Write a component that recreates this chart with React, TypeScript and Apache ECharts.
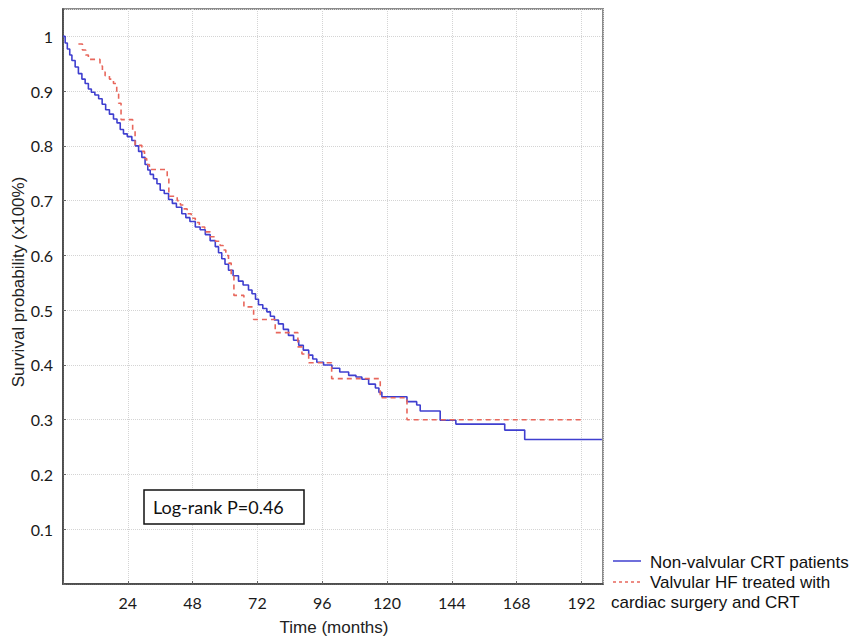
import React, { useEffect, useRef } from "react";
import * as echarts from "echarts";

// Non-valvular CRT patients (Kaplan-Meier, step after each event)
const blueTimes = [0, 0.8, 1.6, 2.5, 3.3, 4.5, 5.7, 7.0, 8.2, 9.4, 10.5, 11.8, 13.2, 14.5, 15.8, 17.2, 18.7, 20.0, 21.2, 22.4, 23.8, 25.5, 26.8, 28.0, 29.2, 30.4, 31.4, 32.3, 33.5, 34.8, 36.0, 37.5, 39.1, 40.5, 42.0, 44.0, 45.5, 47.0, 49.0, 50.8, 52.7, 54.5, 56.4, 57.6, 58.8, 60.0, 61.3, 63.0, 65.0, 66.7, 68.7, 70.0, 71.3, 72.4, 74.0, 75.5, 76.8, 78.3, 79.8, 81.6, 83.5, 85.4, 87.3, 89.0, 91.0, 92.5, 94.0, 96.5, 99.6, 102.5, 105.8, 108.5, 110.7, 113.2, 115.7, 117.0, 118.1, 127.4, 131.0, 132.3, 139.7, 145.5, 163.6, 171.0, 199.6];
const blueSurv = [1.0, 0.988, 0.977, 0.966, 0.956, 0.944, 0.932, 0.922, 0.914, 0.904, 0.898, 0.893, 0.886, 0.876, 0.866, 0.858, 0.849, 0.842, 0.830, 0.822, 0.817, 0.810, 0.800, 0.790, 0.779, 0.766, 0.756, 0.748, 0.740, 0.731, 0.719, 0.713, 0.702, 0.695, 0.688, 0.676, 0.669, 0.662, 0.652, 0.647, 0.638, 0.627, 0.616, 0.605, 0.594, 0.584, 0.573, 0.563, 0.553, 0.546, 0.537, 0.530, 0.520, 0.510, 0.503, 0.497, 0.489, 0.482, 0.475, 0.465, 0.454, 0.445, 0.436, 0.427, 0.418, 0.411, 0.405, 0.400, 0.394, 0.387, 0.381, 0.378, 0.374, 0.365, 0.358, 0.350, 0.342, 0.333, 0.327, 0.316, 0.299, 0.292, 0.281, 0.264, 0.264];

// Valvular HF treated with cardiac surgery and CRT
const redTimes = [5.7, 7.2, 8.4, 9.4, 13.7, 14.6, 15.6, 17.2, 18.7, 19.9, 20.6, 21.5, 25.8, 26.7, 29.2, 30.2, 31.0, 32.0, 38.6, 39.2, 42.3, 43.5, 44.6, 46.0, 47.5, 49.0, 50.5, 52.5, 54.5, 56.5, 58.2, 59.3, 60.3, 61.3, 62.3, 63.3, 67.0, 70.6, 78.6, 87.0, 88.5, 91.0, 99.5, 117.5, 127.4, 192.8];
const redSurv = [0.986, 0.975, 0.966, 0.958, 0.946, 0.935, 0.928, 0.922, 0.914, 0.895, 0.878, 0.848, 0.828, 0.801, 0.790, 0.777, 0.766, 0.757, 0.740, 0.708, 0.700, 0.692, 0.685, 0.676, 0.668, 0.660, 0.652, 0.643, 0.634, 0.626, 0.618, 0.610, 0.600, 0.586, 0.564, 0.527, 0.506, 0.483, 0.459, 0.433, 0.420, 0.404, 0.375, 0.340, 0.300, 0.300];

const xTicks = [24, 48, 72, 96, 120, 144, 168, 192];
const yTicks = [0.1, 0.2, 0.3, 0.4, 0.5, 0.6, 0.7, 0.8, 0.9, 1];
const seriesNames = ["Non-valvular CRT patients", "Valvular HF treated with cardiac surgery and CRT"];
const annotation = "Log-rank P=0.46";

const BLUE = "#3f3fcf";
const RED = "#e8675c";

export default function App() {
  const ref = useRef<HTMLDivElement>(null);
  useEffect(() => {
    if (!ref.current) return;
    const chart = echarts.init(ref.current, null, { renderer: "svg" });
    const blueData = blueTimes.map((t, i) => [t, blueSurv[i]]);
    const redData = redTimes.map((t, i) => [t, redSurv[i]]);
    const tickFont = "Lato, 'Open Sans', sans-serif";
    const textFont = "'Liberation Sans', Arial, sans-serif";
    chart.setOption({
      animation: false,
      backgroundColor: "#ffffff",
      grid: {
        left: 63,
        top: 9,
        right: 253,
        bottom: 60,
        show: true,
        borderColor: "#8c8c8c",
        borderWidth: 2,
        backgroundColor: "transparent",
      },
      xAxis: {
        type: "value",
        min: 0,
        max: 200,
        interval: 24,
        axisLine: { show: true, onZero: false, lineStyle: { color: "#3a3a3a", width: 1.5 } },
        axisTick: { show: true, inside: true, length: 3, lineStyle: { color: "#666" } },
        axisLabel: {
          margin: 10,
          color: "#1a1a1a",
          fontFamily: tickFont,
          fontSize: 16,
          showMaxLabel: false,
          formatter: (v: number) => (xTicks.includes(v) ? String(v) : ""),
        },
        splitLine: { show: true, lineStyle: { color: "#d4d4d4", type: "dotted", width: 1 } },
      },
      yAxis: {
        type: "value",
        min: 0,
        max: 1.05,
        interval: 0.1,
        axisLine: { show: true, onZero: false, lineStyle: { color: "#3a3a3a", width: 1.5 } },
        axisTick: { show: true, inside: true, length: 3, lineStyle: { color: "#666" } },
        axisLabel: {
          margin: 10,
          color: "#1a1a1a",
          fontFamily: tickFont,
          fontSize: 16,
          showMaxLabel: false,
          formatter: (v: number) => {
            const m = yTicks.find((t) => Math.abs(t - v) < 1e-6);
            if (m === undefined) return "";
            return m === 1 ? "1" : m.toFixed(1);
          },
        },
        splitLine: { show: true, lineStyle: { color: "#d4d4d4", type: "dotted", width: 1 } },
      },
      series: [
        {
          name: seriesNames[0],
          type: "line",
          step: "end",
          data: blueData,
          showSymbol: false,
          symbol: "none",
          lineStyle: { color: BLUE, width: 1.6 },
          z: 3,
        },
        {
          name: seriesNames[1],
          type: "line",
          step: "end",
          data: redData,
          showSymbol: false,
          symbol: "none",
          lineStyle: { color: RED, width: 1.6, type: [5, 4] },
          z: 4,
        },
      ],
      graphic: [
        {
          type: "text",
          x: 18,
          y: 282,
          rotation: Math.PI / 2,
          style: {
            text: "Survival probability (x100%)",
            fontFamily: textFont,
            fontSize: 17,
            fill: "#222",
            align: "center",
            verticalAlign: "middle",
          },
        },
        {
          type: "text",
          x: 334,
          y: 627,
          style: {
            text: "Time (months)",
            fontFamily: textFont,
            fontSize: 17,
            fill: "#222",
            align: "center",
            verticalAlign: "middle",
          },
        },
        {
          type: "rect",
          shape: { x: 144, y: 490, width: 160, height: 34 },
          style: { fill: "#fff", stroke: "#111", lineWidth: 1.5 },
          z: 10,
        },
        {
          type: "text",
          x: 153,
          y: 507,
          z: 11,
          style: {
            text: annotation,
            fontFamily: tickFont,
            fontSize: 18,
            fill: "#111",
            align: "left",
            verticalAlign: "middle",
          },
        },
        {
          type: "line",
          shape: { x1: 613, y1: 561, x2: 641, y2: 561 },
          style: { stroke: BLUE, lineWidth: 1.5 },
        },
        {
          type: "line",
          shape: { x1: 613, y1: 582, x2: 641, y2: 582 },
          style: { stroke: RED, lineWidth: 1.5, lineDash: [3, 3] },
        },
        {
          type: "text",
          x: 650,
          y: 562,
          style: {
            text: seriesNames[0],
            fontFamily: textFont,
            fontSize: 17,
            fill: "#111",
            align: "left",
            verticalAlign: "middle",
          },
        },
        {
          type: "text",
          x: 650,
          y: 582,
          style: {
            text: "Valvular HF treated with",
            fontFamily: textFont,
            fontSize: 17,
            fill: "#111",
            align: "left",
            verticalAlign: "middle",
          },
        },
        {
          type: "text",
          x: 611,
          y: 602,
          style: {
            text: "cardiac surgery and CRT",
            fontFamily: textFont,
            fontSize: 17,
            fill: "#111",
            align: "left",
            verticalAlign: "middle",
          },
        },
      ],
    });
    return () => chart.dispose();
  }, []);
  return (
    <div
      ref={ref}
      style={{ position: "fixed", left: 0, top: 0, width: 856, height: 644, background: "#fff" }}
    />
  );
}
